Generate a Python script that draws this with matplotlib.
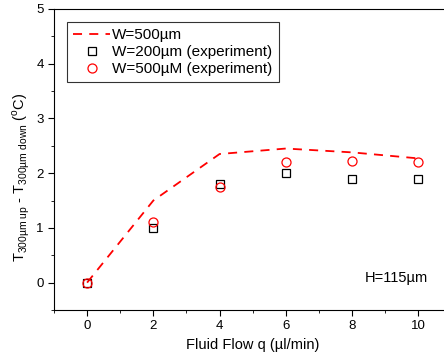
import matplotlib
matplotlib.use("Agg")
import matplotlib.pyplot as plt
from matplotlib.ticker import MultipleLocator

plt.rcParams["font.family"] = ["Liberation Sans", "DejaVu Sans"]

# model curve, W=500um
flow = [0, 2, 4, 6, 8, 10]
model_500 = [0.0, 1.5, 2.35, 2.45, 2.38, 2.27]
# experiments
exp_200 = [0.0, 1.0, 1.8, 2.0, 1.9, 1.9]
exp_500 = [0.0, 1.1, 1.75, 2.2, 2.22, 2.2]

fig = plt.figure(figsize=(4.44, 3.59), dpi=100)
ax = fig.add_axes([0.1216, 0.1365, 0.895, 0.8385])

ax.plot(flow, model_500, color="red", ls=(0, (5, 4)), lw=1.3, label="W=500µm")
ax.plot(flow, exp_200, ls="none", marker="s", ms=5.5, mfc="none", mec="black",
        mew=0.9, label="W=200µm (experiment)")
ax.plot(flow, exp_500, ls="none", marker="o", ms=6.5, mfc="none", mec="red",
        mew=0.9, label="W=500µM (experiment)")

ax.set_xlim(-1, 11)
ax.set_ylim(-0.5, 5)
ax.xaxis.set_major_locator(MultipleLocator(2))
ax.xaxis.set_minor_locator(MultipleLocator(1))
ax.yaxis.set_major_locator(MultipleLocator(1))
ax.yaxis.set_minor_locator(MultipleLocator(0.5))
ax.tick_params(which="both", direction="out", top=False, right=False,
               labelsize=9.5)
ax.tick_params(which="major", length=4)
ax.tick_params(which="minor", length=2.5)

ax.set_xlabel("Fluid Flow q (µl/min)", fontsize=10.5)
ax.set_ylabel(r"T$_{\mathregular{300µm\ up}}$ - T$_{\mathregular{300µm\ down}}$ ($^{\mathregular{o}}$C)",
              fontsize=10.5)
ax.yaxis.set_label_coords(-0.055, 0.44)

ax.text(10.3, -0.05, "H=115µm", ha="right", va="bottom", fontsize=10.5)

leg = ax.legend(loc="upper left", bbox_to_anchor=(0.033, 0.957), fontsize=11,
                frameon=True, fancybox=False, handlelength=2.4,
                borderpad=0.4, labelspacing=0.2, handletextpad=0.15,
                borderaxespad=0)
leg.get_frame().set_edgecolor("black")
leg.get_frame().set_linewidth(0.8)

fig.savefig("out.png", dpi=100)
